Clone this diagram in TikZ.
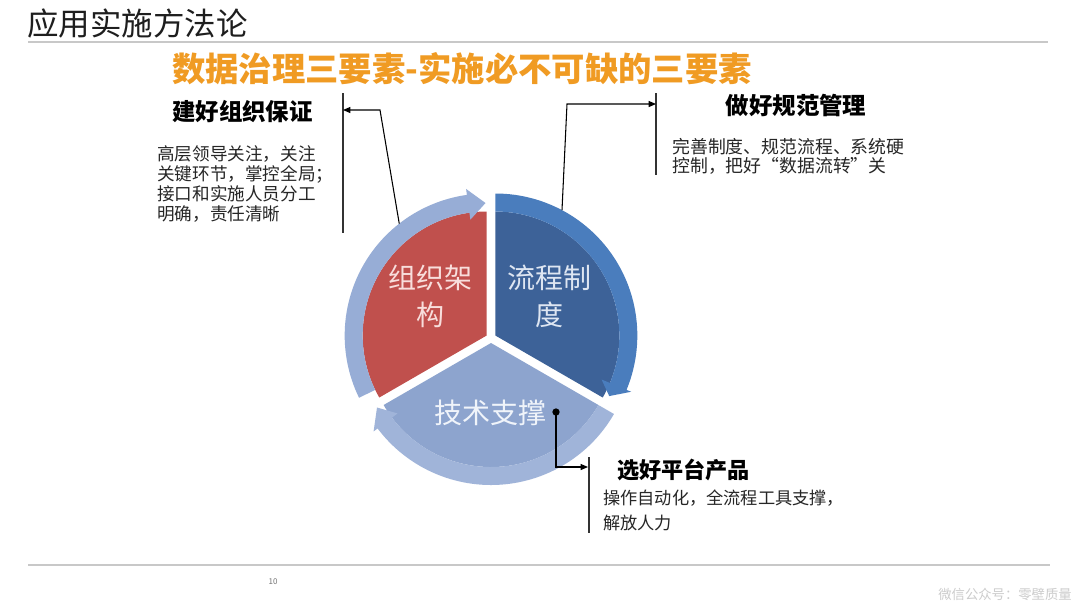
\documentclass[tikz,border=0pt]{standalone}
\usepackage{fontspec}
\setmainfont{Noto Sans CJK SC}
\usetikzlibrary{arrows.meta}
\definecolor{redc}{RGB}{192,80,77}
\definecolor{redring}{RGB}{151,173,214}
\definecolor{bluew}{RGB}{61,98,152}
\definecolor{bluering}{RGB}{74,125,189}
\definecolor{techw}{RGB}{141,164,206}
\definecolor{techring}{RGB}{160,180,217}
\definecolor{orangec}{RGB}{240,155,35}
\definecolor{grayline}{RGB}{200,200,200}
\definecolor{titlec}{RGB}{30,30,30}
\newcommand\myring[9]{%
  \fill[#1] (#2:#5) -- (#2:#6) arc[start angle=#2, end angle=#3, radius=#6]
    -- (#3:#8) -- (#4:#9) -- (#3:#7) -- (#3:#5)
    arc[start angle=#3, end angle=#2, radius=#5] -- cycle;}
\begin{document}
\begin{tikzpicture}[x=0.75pt,y=-0.75pt,
  heading/.style={inner sep=0pt, font=\fontsize{17.6}{20}\selectfont\bfseries, text=black},
  body/.style={inner sep=0pt, anchor=west, align=left, text=black!85},
  pietext/.style={inner sep=0pt, align=center, font=\fontsize{21}{27.5}\selectfont},
  conn/.style={line width=0.8pt, black},
  tipc/.style={-{Triangle[length=5.5pt,width=4.5pt]}},
  bracket/.style={line width=0.8pt, black!80}]
\useasboundingbox[fill=white] (0,0) rectangle (1080,608);

% title
\node[inner sep=0pt, anchor=west, text=titlec, font=\fontsize{23.6}{26}\selectfont] (title) at (27,24) {应用实施方法论};
\draw[grayline, line width=1.1pt] (28,42) -- (1048,42);
\node[inner sep=0pt, text=orangec, font=\fontsize{25}{28}\selectfont\bfseries] (sub) at (462,69) {数据治理三要素-实施必不可缺的三要素};

% pie
\begin{scope}[shift={(491,338)}, x=0.75pt, y=0.75pt]
  \begin{scope}[shift={(150:5)}]
    \fill[redc] (0,0) -- (90:124) arc[start angle=90, end angle=210, radius=124] -- cycle;
    \myring{redring}{206}{98}{90.5}{124}{142}{117}{148}{132.5}
    \coordinate (ra) at (128:142);
  \end{scope}
  \begin{scope}[shift={(30:5)}]
    \fill[bluew] (0,0) -- (-30:124) arc[start angle=-30, end angle=90, radius=124] -- cycle;
    \myring{bluering}{90}{-22.5}{-28}{124}{142}{115}{147}{129}
    \coordinate (ba) at (62:142);
  \end{scope}
  \begin{scope}[shift={(270:5)}]
    \fill[techw] (0,0) -- (210:124) arc[start angle=210, end angle=330, radius=124] -- cycle;
    \myring{techring}{330}{217}{209.5}{124}{142}{117}{147}{131}
  \end{scope}
\end{scope}

\node[pietext, text={rgb,255:red,248;green,222;blue,220}] (org) at (430,296.5) {组织架\\构};
\node[pietext, text={rgb,255:red,222;green,230;blue,242}] (proc) at (549,296.5) {流程制\\度};
\node[pietext, text={rgb,255:red,240;green,244;blue,250}] (tech) at (490,413) {技术支撑};

% left annotation
\node[heading] (lh) at (242.5,112) {建好组织保证};
\node[body, font=\fontsize{13.2}{15}\selectfont] (lb) at (157,184.5) {高层领导关注，关注\\关键环节，掌控全局；\\接口和实施人员分工\\明确，责任清晰};
\coordinate (lv1) at (343,93);
\coordinate (lv2) at (343,233);
\coordinate (lc) at (380,110);
\coordinate (lt) at (343,110);
\draw[bracket] (lv1) -- (lv2);
\draw[conn, tipc] (ra) -- (lc) -- (lt);

% right annotation
\node[heading] (rh) at (796,105) {做好规范管理};
\node[body, font=\fontsize{13.4}{14.3}\selectfont] (rb) at (672,156) {完善制度、规范流程、系统硬\\控制，把好“数据流转”关};
\coordinate (rv1) at (656,93);
\coordinate (rv2) at (656,175);
\coordinate (rc) at (567,104);
\coordinate (rt) at (656,104);
\draw[bracket] (rv1) -- (rv2);
\draw[conn, tipc] (ba) -- (rc) -- (rt);

% bottom annotation
\node[heading, font=\fontsize{16.6}{20}\selectfont\bfseries] (bh) at (683.5,470) {选好平台产品};
\node[body, font=\fontsize{12.9}{18.75}\selectfont] (bb) at (603,510.5) {操作自动化，全流程工具支撑，\\解放人力};
\node[circle, fill=black, inner sep=0pt, minimum size=5.5pt] (dot) at (556,412) {};
\coordinate (bc) at (556,467);
\coordinate (bt) at (588,467);
\coordinate (bv1) at (589,457);
\coordinate (bv2) at (589,533);
\draw[bracket] (bv1) -- (bv2);
\draw[conn, tipc] (dot.center) -- (bc) -- (bt);

% footer
\draw[grayline, line width=1.4pt] (28,565) -- (1050,565);
\node[inner sep=0pt, text=black!55, font=\fontsize{6}{7}\selectfont] (pg) at (273,582) {10};
\node[inner sep=0pt, text=black!20, font=\fontsize{10}{12}\selectfont] (wm) at (1005,594) {微信公众号：零壁质量};
\end{tikzpicture}
\end{document}
